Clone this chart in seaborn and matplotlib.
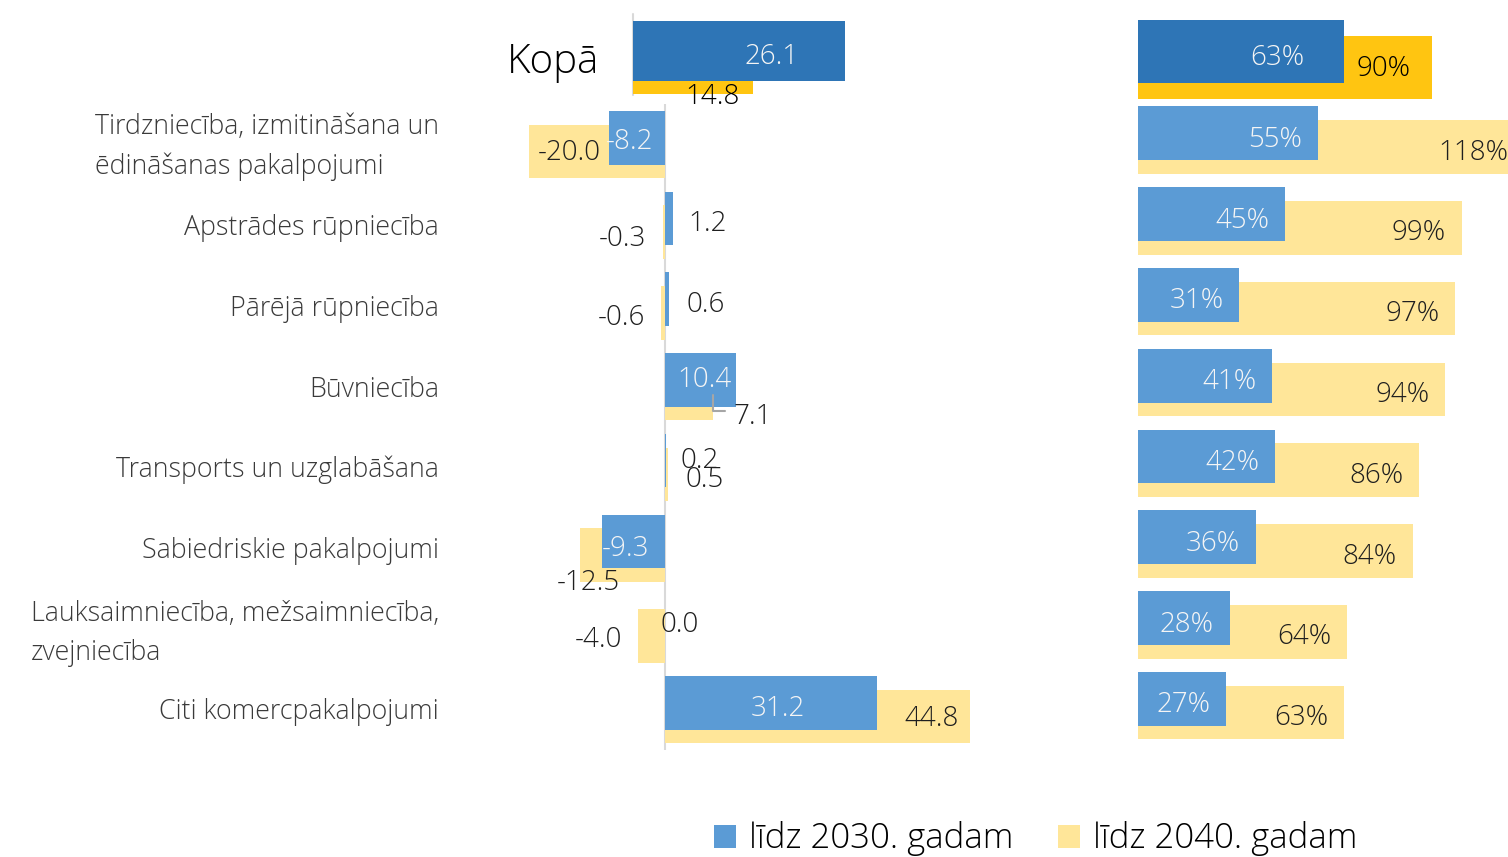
import numpy as np
import pandas as pd
import matplotlib
matplotlib.use("Agg")
import matplotlib.pyplot as plt
import seaborn as sns
from matplotlib.patches import Patch

# ---------------- data ----------------
total_label = "Kopā"
categories = [
    "Tirdzniecība, izmitināšana un\nēdināšanas pakalpojumi",
    "Apstrādes rūpniecība",
    "Pārējā rūpniecība",
    "Būvniecība",
    "Transports un uzglabāšana",
    "Sabiedriskie pakalpojumi",
    "Lauksaimniecība, mežsaimniecība,\nzvejniecība",
    "Citi komercpakalpojumi",
]
total_change_2030 = 26.1
total_change_2040 = 14.8
change_2030 = [-8.2, 1.2, 0.6, 10.4, 0.2, -9.3, 0.0, 31.2]
change_2040 = [-20.0, -0.3, -0.6, 7.1, 0.5, -12.5, -4.0, 44.8]
total_share_2030 = 63
total_share_2040 = 90
share_2030 = [55, 45, 31, 41, 42, 36, 28, 27]
share_2040 = [118, 99, 97, 94, 86, 84, 64, 63]
series_labels = ["līdz 2030. gadam", "līdz 2040. gadam"]

# ---------------- style ----------------
BLUE = "#5B9BD5"
YELLOW = "#FFE699"
BLUE_TOT = "#2E75B6"
YELLOW_TOT = "#FFC511"
DARK = "#1F1F1F"
CAT = "#3A3A3A"
WHITE = "#F5F5F5"
LINE = "#D9D9D9"

sns.set_style("white")
plt.rcParams["font.family"] = ["Open Sans", "DejaVu Sans"]
plt.rcParams["font.weight"] = "light"

W, H = 1508, 857
fig = plt.figure(figsize=(W / 100, H / 100), dpi=100)
fig.patch.set_facecolor("white")


def px_axes(x0, x1, y0, y1):
    return fig.add_axes([x0 / W, 1 - y1 / H, (x1 - x0) / W, (y1 - y0) / H])


def bars(ax, values, positions, color, height):
    df = pd.DataFrame({"v": values, "pos": positions})
    sns.barplot(data=df, x="v", y="pos", orient="y", native_scale=True,
                width=height, color=color, saturation=1, errorbar=None,
                ax=ax, linewidth=0)


VCORR = 2.5
VAL_FS = 20


def label(ax, x, y, text, ha, dx, dy, color, size=VAL_FS):
    ax.annotate(text, xy=(x, y), xytext=(dx, -(dy + VCORR)),
                textcoords="offset pixels", ha=ha, va="center",
                color=color, fontsize=size, annotation_clip=False)


def clean(ax):
    for s in ax.spines.values():
        s.set_visible(False)
    ax.set_xticks([])
    ax.set_xlabel("")
    ax.set_ylabel("")
    ax.tick_params(length=0)
    ax.set_facecolor("none")


n = len(categories)
rows = np.arange(n)
H_BAR = 0.665
OFF = 0.085

# ---------------- left: Kopā change ----------------
ax_tot = px_axes(633, 900, 17.1, 97.9)
bars(ax_tot, [total_change_2040], [OFF * 0.94], YELLOW_TOT, 0.743)
bars(ax_tot, [total_change_2030], [-OFF * 0.94], BLUE_TOT, 0.743)
ax_tot.set_xlim(0, 267 / 8.12)
ax_tot.set_ylim(0.5, -0.5)
clean(ax_tot)
ax_tot.set_yticks([0])
ax_tot.set_yticklabels([total_label], fontsize=29, color="black")
ax_tot.tick_params(axis="y", pad=24)
ax_tot.axvline(0, ymin=0.036, ymax=1.038, color=LINE, lw=1.5, clip_on=False, zorder=0.5)
label(ax_tot, total_change_2030, -OFF * 0.94, f"{total_change_2030:.1f}", "right", -46, 3, WHITE)
label(ax_tot, total_change_2040, OFF * 0.94, f"{total_change_2040:.1f}", "right", -13, 31, "black")

# ---------------- left: sector changes ----------------
ax_l = px_axes(520, 1000, 104.35, 749.95)
bars(ax_l, change_2040, rows + OFF, YELLOW, H_BAR)
bars(ax_l, change_2030, rows - OFF, BLUE, H_BAR)
ax_l.set_xlim(-145 / 6.8, 335 / 6.8)
ax_l.set_ylim(n - 0.5, -0.5)
clean(ax_l)
ax_l.axvline(0, color=LINE, lw=1.5, zorder=0.5)
ax_l.set_yticks([])

cat_dy = [2.5, 3, 3, 3, 2, 2.5, 4.5, 2.5]
for i, cat in enumerate(categories):
    ax_l.annotate(cat, xy=(0, rows[i]), xycoords=("axes fraction", "data"),
                  xytext=(-81, -cat_dy[i]), textcoords="offset pixels",
                  ha="right", va="center", multialignment="left",
                  linespacing=1.52, fontsize=19.3, color=CAT, annotation_clip=False)

blue_lab = [("left", -3, 2, WHITE), ("left", 15, 3, DARK), ("left", 17, 3, DARK),
            ("right", -4, -2, WHITE), ("left", 14, -2, DARK), ("left", 0, 5, WHITE),
            ("left", -4, 0, DARK), ("right", -72, 4, WHITE)]
yel_lab = [("left", 9, -1), ("right", -17, 4), ("right", -16, 3), ("left", 20, 21),
           ("left", 17, 3), ("left", -23, 25), ("right", -16, 2), ("right", -11, 0)]
for i in range(n):
    ha, dx, dy, c = blue_lab[i]
    label(ax_l, change_2030[i], rows[i] - OFF, f"{change_2030[i]:.1f}", ha, dx, dy, c)
    ha, dx, dy = yel_lab[i]
    label(ax_l, change_2040[i], rows[i] + OFF, f"{change_2040[i]:.1f}", ha, dx, dy, DARK)

# leader line for the Būvniecība 2040 label
k = categories.index("Būvniecība")
anchor = ax_l.transData.transform((change_2040[k], rows[k] + OFF))
pts = np.array([[0, 1.5], [0, 17.5], [12, 17.5]], dtype=float)
disp = np.column_stack([anchor[0] + pts[:, 0], anchor[1] - pts[:, 1]])
dat = ax_l.transData.inverted().transform(disp)
ax_l.plot(dat[:, 0], dat[:, 1], color="#A6A6A6", lw=1.5, zorder=3, clip_on=False)

# ---------------- right: shares ----------------
ax_r = px_axes(1138, 1508, 18.95, 746.15)
OFF_T = 0.099
bars(ax_r, [total_share_2040], [OFF_T], YELLOW_TOT, 0.776)
bars(ax_r, [total_share_2030], [-OFF_T], BLUE_TOT, 0.776)
bars(ax_r, share_2040, rows + 1 + OFF, YELLOW, H_BAR)
bars(ax_r, share_2030, rows + 1 - OFF, BLUE, H_BAR)
ax_r.set_xlim(0, 370 / 3.27)
ax_r.set_ylim(n + 0.5, -0.5)
clean(ax_r)
ax_r.set_yticks([])
for p in ax_r.patches:
    p.set_clip_on(False)

label(ax_r, total_share_2030, -OFF_T, f"{total_share_2030:.0f}%", "right", -40, 4, WHITE)
label(ax_r, total_share_2040, OFF_T, f"{total_share_2040:.0f}%", "right", -22, -1, "black")
for i in range(n):
    label(ax_r, share_2030[i], rows[i] + 1 - OFF, f"{share_2030[i]:.0f}%", "right", -16, 4, WHITE)
    label(ax_r, share_2040[i], rows[i] + 1 + OFF, f"{share_2040[i]:.0f}%", "right", -16, 3, DARK)

# ---------------- legend ----------------
handles = [Patch(facecolor=BLUE, edgecolor="none"), Patch(facecolor=YELLOW, edgecolor="none")]
fig.legend(handles, series_labels, loc="center left", bbox_to_anchor=(714 / W, 1 - 839 / H),
           ncol=2, frameon=False, fontsize=25, handlelength=0.634, handleheight=0.634,
           handletextpad=0.375, columnspacing=1.27, borderpad=0, borderaxespad=0,
           labelcolor="black")

fig.savefig("out.png", dpi=100, facecolor="white")
